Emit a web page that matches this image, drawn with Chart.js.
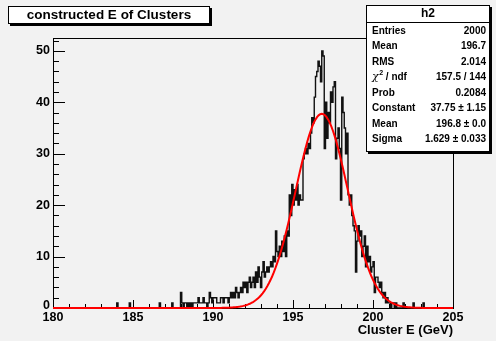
<!DOCTYPE html>
<html>
<head>
<meta charset="utf-8">
<script src="https://cdn.jsdelivr.net/npm/chart.js@4.4.1/dist/chart.umd.min.js"></script>
<style>
  html, body { margin: 0; padding: 0; background: #f2f2f2; }
  canvas { display: block; }
</style>
</head>
<body>
<canvas id="c" width="496" height="341"></canvas>
<script>
// Histogram h2: reconstructed cluster energy, 320 bins over 180-205 GeV
const xMin = 180;
const xMax = 205;
const nBins = 320;
const firstFilledBin = 50;
const binCounts = [
  0,0,1,0,0,0,0,0,0,0,
  0,0,1,0,0,0,0,0,0,0,
  0,0,0,0,0,0,0,0,0,0,
  0,0,0,0,0,0,1,0,0,0,
  0,0,0,0,0,0,1,0,0,0,
  0,0,0,3,1,0,1,1,0,1,
  0,1,0,1,1,1,1,2,1,1,
  1,2,1,1,0,1,3,2,1,2,
  2,2,1,1,1,2,2,1,2,2,
  2,1,2,3,2,3,2,4,3,2,
  3,4,3,5,4,5,3,5,6,4,
  5,6,4,7,5,8,6,4,7,9,
  6,7,8,7,8,9,8,10,9,15,
  11,10,12,10,13,11,14,10,15,14,
  22,18,24,20,23,21,24,20,22,21,
  21,29,30,31,30,32,31,34,37,36,
  41,45,46,48,47,44,50,49,31,40,
  33,38,36,42,40,43,44,29,33,35,
  31,21,41,38,35,30,34,22,20,22,
  18,16,15,7,13,16,14,15,10,12,
  14,8,12,9,10,7,8,9,3,6,
  6,5,4,5,3,2,3,1,2,1,
  1,0,1,1,0,1,0,0,0,0,
  0,1,0,0,0,0,0,0,0,1,
  0,0,0,0,0,0,0,1,0,0
];

// Gaussian fit parameters
const fitConstant = 37.75;
const fitMean = 196.8;
const fitSigma = 1.629;

// Axis ticks
const yMax = 52.5;
const xMajorTicks = [180, 185, 190, 195, 200, 205];
const yMajorTicks = [0, 10, 20, 30, 40, 50];

// Texts
const histTitle = 'constructed E of Clusters';
const xTitle = 'Cluster E (GeV)';
const statsName = 'h2';
const statsRows = [
  ['Entries', '2000'],
  ['Mean', '196.7'],
  ['RMS', '2.014'],
  ['chi2', '157.5 / 144'],
  ['Prob', '0.2084'],
  ['Constant', '37.75 \u00b1 1.15'],
  ['Mean', '196.8 \u00b1 0.0'],
  ['Sigma', '1.629 \u00b1 0.033']
];

// Build step outline points (left edge of each bin)
const binWidth = (xMax - xMin) / nBins;
const histPoints = [];
for (let i = 0; i < nBins; i++) {
  const j = i - firstFilledBin;
  const v = (j >= 0 && j < binCounts.length) ? binCounts[j] : 0;
  histPoints.push({ x: xMin + i * binWidth, y: v });
}
histPoints.push({ x: xMax, y: 0 });

// Fit function sampled over the full axis range
const fitPoints = [];
const nFit = 250;
for (let k = 0; k <= nFit; k++) {
  const x = xMin + (xMax - xMin) * k / nFit;
  const d = (x - fitMean) / fitSigma;
  fitPoints.push({ x: x, y: fitConstant * Math.exp(-0.5 * d * d) });
}

const FONT = '"Liberation Sans", Arial, Helvetica, sans-serif';

const rootStyle = {
  id: 'rootStyle',
  beforeDraw(chart) {
    const ctx = chart.ctx;
    ctx.save();
    ctx.fillStyle = '#f2f2f2';
    ctx.fillRect(0, 0, chart.width, chart.height);
    ctx.restore();
  },
  beforeDatasetsDraw(chart) {
    const ctx = chart.ctx;
    const a = chart.chartArea;
    const xs = chart.scales.x, ys = chart.scales.y;
    ctx.save();
    ctx.strokeStyle = '#000';
    ctx.lineWidth = 1;
    // frame
    ctx.strokeRect(Math.round(a.left) + 0.5, Math.round(a.top) + 0.5,
                   Math.round(a.right - a.left), Math.round(a.bottom - a.top));
    // x ticks (inward)
    ctx.beginPath();
    for (let v = xMin; v <= xMax + 1e-9; v += 1) {
      const px = Math.round(xs.getPixelForValue(v)) + 0.5;
      const len = (Math.abs(v % 5) < 1e-9) ? 8 : 4;
      ctx.moveTo(px, a.bottom);
      ctx.lineTo(px, a.bottom - len);
    }
    // y ticks (inward)
    for (let v = 0; v <= yMax + 1e-9; v += 2) {
      const py = Math.round(ys.getPixelForValue(v)) + 0.5;
      const len = (v % 10 === 0) ? 12 : 6;
      ctx.moveTo(a.left, py);
      ctx.lineTo(a.left + len, py);
    }
    ctx.stroke();

    // tick labels
    ctx.fillStyle = '#000';
    ctx.font = 'bold 12.5px ' + FONT;
    ctx.textAlign = 'center';
    ctx.textBaseline = 'middle';
    xMajorTicks.forEach(v => {
      ctx.fillText(String(v), xs.getPixelForValue(v), a.bottom + 10);
    });
    ctx.textAlign = 'right';
    yMajorTicks.forEach(v => {
      ctx.fillText(String(v), a.left - 3, ys.getPixelForValue(v) - (v === 0 ? 2 : 0));
    });
    // axis title
    ctx.font = 'bold 13px ' + FONT;
    ctx.textAlign = 'right';
    ctx.fillText(xTitle, a.right, a.bottom + 22);
    ctx.restore();
  },
  afterDraw(chart) {
    const ctx = chart.ctx;
    ctx.save();
    // boxes with drop shadow
    function box(x, y, w, h) {
      ctx.fillStyle = '#000';
      ctx.fillRect(x + 2, y + 2, w, h);
      ctx.fillStyle = '#fff';
      ctx.fillRect(x, y, w, h);
      ctx.strokeStyle = '#000';
      ctx.lineWidth = 1;
      ctx.strokeRect(x + 0.5, y + 0.5, w - 1, h - 1);
    }
    // title box
    box(8, 6, 202, 18);
    ctx.fillStyle = '#000';
    ctx.font = 'bold 13.5px ' + FONT;
    ctx.textAlign = 'center';
    ctx.textBaseline = 'middle';
    ctx.fillText(histTitle, 109, 15.5);

    // stats box
    const sx = 366, sy = 5, sw = 124, sh = 147;
    box(sx, sy, sw, sh);
    ctx.beginPath();
    ctx.moveTo(sx, 22.5);
    ctx.lineTo(sx + sw, 22.5);
    ctx.stroke();
    ctx.fillStyle = '#000';
    ctx.font = 'bold 12px ' + FONT;
    ctx.textAlign = 'center';
    ctx.fillText(statsName, sx + sw / 2, 14);
    statsRows.forEach((r, k) => {
      const yy = 31 + k * 15.5;
      ctx.textAlign = 'left';
      if (r[0] === 'chi2') {
        ctx.font = 'italic 11px "DejaVu Serif", serif';
        ctx.fillText('\u03c7', 372, yy);
        const w1 = ctx.measureText('\u03c7').width;
        ctx.font = 'bold 7px ' + FONT;
        ctx.fillText('2', 372 + w1 + 0.5, yy - 4);
        const w2 = ctx.measureText('2').width;
        ctx.font = 'bold 10px ' + FONT;
        ctx.fillText(' / ndf', 372 + w1 + w2 + 0.5, yy);
      } else {
        ctx.font = 'bold 10px ' + FONT;
        ctx.fillText(r[0], 372, yy);
      }
      ctx.font = 'bold 10px ' + FONT;
      ctx.textAlign = 'right';
      ctx.fillText(r[1], 486, yy);
    });
    ctx.restore();
  }
};

new Chart(document.getElementById('c'), {
  type: 'line',
  data: {
    datasets: [
      {
        data: histPoints,
        borderColor: '#111',
        borderWidth: 1.4,
        stepped: 'after',
        pointRadius: 0,
        fill: false,
        order: 2
      },
      {
        data: fitPoints,
        borderColor: '#ff0000',
        borderWidth: 2,
        pointRadius: 0,
        tension: 0,
        fill: false,
        clip: false,
        order: 1
      }
    ]
  },
  options: {
    responsive: false,
    animation: false,
    devicePixelRatio: 1,
    layout: { padding: { left: 53, top: 38, right: 43, bottom: 33 } },
    plugins: { legend: { display: false }, tooltip: { enabled: false } },
    events: [],
    scales: {
      x: { type: 'linear', min: xMin, max: xMax, display: false },
      y: { type: 'linear', min: 0, max: yMax, display: false }
    }
  },
  plugins: [rootStyle]
});
</script>
</body>
</html>
